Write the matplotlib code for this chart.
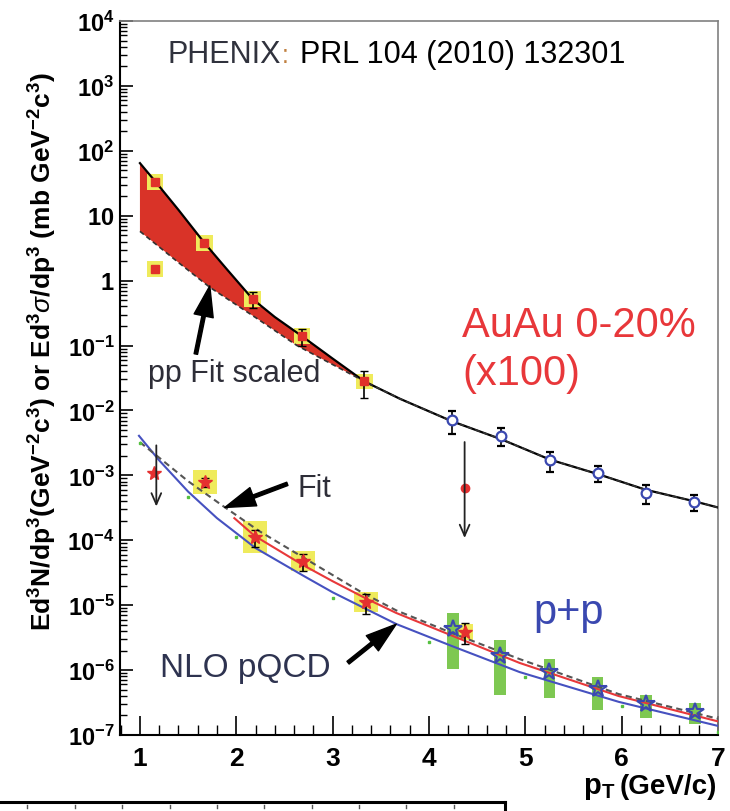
import numpy as np
import matplotlib.pyplot as plt
from matplotlib.lines import Line2D
from matplotlib.patches import Rectangle
from matplotlib.ticker import (LogLocator, NullFormatter, FuncFormatter,
                               MultipleLocator, FixedLocator)

plt.rcParams['font.family'] = ['Liberation Sans', 'DejaVu Sans']
plt.rcParams['mathtext.fontset'] = 'custom'
plt.rcParams['mathtext.rm'] = 'Liberation Sans'
plt.rcParams['mathtext.it'] = 'Liberation Sans:italic'
plt.rcParams['mathtext.bf'] = 'Liberation Sans:bold'

# --- AuAu 0-20% (x100), low pT points (red squares, yellow syst. boxes)
auau_x = [1.155, 1.67, 2.17, 2.68, 3.33]
auau_y = [33.0, 3.8, 0.52, 0.14, 0.028]
auau_err = [0.0, 0.1, 0.27, 0.3, 0.45]          # relative stat. error
auau2_x = [1.155]
auau2_y = [1.5]

# AuAu high pT (blue open circles)
circ_x = [4.24, 4.75, 5.26, 5.75, 6.25, 6.75]
circ_y = [7.1e-3, 4.1e-3, 1.7e-3, 1.1e-3, 5.4e-4, 3.9e-4]
circ_err = [0.38, 0.30, 0.33, 0.27, 0.32, 0.28]

# AuAu upper limit
ul_au_x = 4.37
ul_au_y = 6.3e-4
ul_au_range = (3.6e-3, 9.8e-5)

# pp fit scaled (solid) and lower edge of band (dashed)
fit_au_x = [1.0, 1.155, 1.4, 1.67, 1.9, 2.17, 2.4, 2.68, 3.0, 3.33,
            3.7, 4.24, 4.75, 5.26, 5.75, 6.25, 6.75, 7.0]
fit_au_y = [64.6, 34.3, 12.3, 3.8, 1.51, 0.52, 0.275, 0.14, 0.063, 0.028,
            0.0151, 0.0068, 0.0036, 0.00174, 0.00105, 0.0006, 0.0004, 0.00032]
band_lo_x = [1.0, 1.4, 1.725, 2.2, 2.63, 3.0, 3.33]
band_lo_y = [5.75, 1.9, 0.79, 0.27, 0.1, 0.051, 0.028]

# --- p+p
pp_star_x = [1.68, 2.19, 2.69, 3.35, 4.37]
pp_star_y = [7.9e-4, 1.12e-4, 4.8e-5, 1.12e-5, 3.9e-6]
pp_star_err = [0.15, 0.3, 0.3, 0.35, 0.35]
pp_star_syst = [0.18, 0.25, 0.15, 0.16, 0.12]   # dex
ul_pp_x = 1.17
ul_pp_y = 1.1e-3
ul_pp_range = (3.2e-3, 3.0e-4)

pp_open_x = [4.25, 4.74, 5.25, 5.75, 6.25, 6.76]
pp_open_y = [4.3e-6, 1.66e-6, 9.3e-7, 5.1e-7, 3.0e-7, 2.3e-7]
pp_open_syst = [0.76, 0.75, 0.6, 0.52, 0.4, 0.36]  # relative

nlo_x = [0.99, 1.2, 1.5, 1.8, 2.2, 2.7, 3.0, 3.66, 4.24, 4.94, 5.97, 7.0]
nlo_y = [4.07e-3, 1.70e-3, 5.62e-4, 2.19e-4, 7.59e-5, 2.82e-5, 1.58e-5,
         5.13e-6, 2.34e-6, 9.33e-7, 3.24e-7, 1.38e-7]
red_x = [1.98, 2.19, 2.69, 3.0, 3.35, 3.66, 4.24, 4.94, 5.97, 7.0]
red_y = [2.19e-4, 1.17e-4, 4.17e-5, 2.34e-5, 1.26e-5, 7.59e-6, 3.39e-6,
         1.29e-6, 3.98e-7, 1.62e-7]
ppfit_x = [1.0, 1.21, 1.5, 1.86, 2.24, 2.87, 3.3, 3.66, 4.24, 4.94, 5.97, 7.0]
ppfit_y = [3.24e-3, 1.82e-3, 8.13e-4, 3.39e-4, 1.38e-4, 3.80e-5, 1.58e-5,
           8.32e-6, 3.72e-6, 1.48e-6, 4.27e-7, 1.78e-7]
green_x = [1.0, 1.5, 2.0, 3.0, 4.0, 5.0, 6.0, 7.0]
green_y = [3.2e-3, 4.7e-4, 1.12e-4, 1.29e-5, 2.7e-6, 7.8e-7, 2.8e-7, 1.12e-7]

y_decades = list(range(-7, 5))
x_major = [1, 2, 3, 4, 5, 6, 7]

YELLOW = '#efeb5c'
GREEN = '#7ec852'
RED = '#e0302a'
BLUE = '#3a48b0'

fig = plt.figure(figsize=(7.3, 8.12), dpi=100)
ax = fig.add_axes([120 / 730, 76 / 812, 598 / 730, 714 / 812])
ax.set_yscale('log')
ax.set_xlim(0.793, 7.0)
ax.set_ylim(1e-7, 1e4)

# red band
poly_x = fit_au_x[:10] + band_lo_x[::-1]
poly_y = fit_au_y[:10] + band_lo_y[::-1]
ax.fill(poly_x, poly_y, color='#d93328', lw=0, zorder=1)

# systematic boxes
for x, y in zip(auau_x + auau2_x, auau_y + auau2_y):
    ax.add_patch(Rectangle((x - 0.085, y / 10**0.12), 0.17, y * (10**0.12 - 10**-0.12),
                           color=YELLOW, lw=0, zorder=2))
for x, y, s in zip(pp_star_x, pp_star_y, pp_star_syst):
    w = 0.09 if x > 4 else 0.125
    ax.add_patch(Rectangle((x - w, y / 10**s), 2 * w, y * (10**s - 10**-s),
                           color=YELLOW, lw=0, zorder=2))
for x, y, s in zip(pp_open_x, pp_open_y, pp_open_syst):
    ax.add_patch(Rectangle((x - 0.06, y * (1 - s)), 0.12, 2 * s * y,
                           color=GREEN, lw=0, zorder=2))

# curves
ax.plot(fit_au_x, fit_au_y, color='black', lw=1.6, zorder=3)
ax.plot(band_lo_x + fit_au_x[10:], band_lo_y + fit_au_y[10:], color='#333333',
        lw=1.2, ls=(0, (3, 2)), zorder=3)
ax.plot(nlo_x, nlo_y, color='#4651c0', lw=1.5, zorder=3)
ax.plot(red_x, red_y, color='#e8383a', lw=1.5, zorder=3)
ax.plot(ppfit_x, ppfit_y, color='#555555', lw=1.5, ls=(0, (3, 2)), zorder=3)
ax.plot(green_x, green_y, ls='none', marker='s', ms=1.8, color='#55c040', zorder=3)

# data points
ax.errorbar(auau_x, auau_y, yerr=np.array(auau_err) * np.array(auau_y), fmt='s',
            ms=6, mfc=RED, mec=RED, ecolor='black', elinewidth=1.2, capsize=3, zorder=4)
ax.plot(auau2_x, auau2_y, 's', ms=6, mfc=RED, mec=RED, zorder=4)
ax.errorbar(circ_x, circ_y, yerr=np.array(circ_err) * np.array(circ_y), fmt='o',
            ms=7, mfc='white', mec=BLUE, mew=1.6, ecolor='black', elinewidth=1.2,
            capsize=3, zorder=4)
ax.plot([ul_au_x], [ul_au_y], 'o', ms=6, color='#e53030', zorder=5)
ax.errorbar(pp_star_x, pp_star_y, yerr=np.array(pp_star_err) * np.array(pp_star_y),
            fmt='*', ms=10, color='#e53030', ecolor='black', elinewidth=1.2,
            capsize=3, zorder=4)
ax.plot([ul_pp_x - 0.02], [ul_pp_y], '*', ms=10, color='#e53030', zorder=5)
ax.plot(pp_open_x, pp_open_y, '*', ms=13, mfc='none', mec=BLUE, mew=1.5, zorder=4)

# upper limit arrows
for x, (y0, y1) in [(ul_au_x, ul_au_range), (ul_pp_x, ul_pp_range)]:
    ax.annotate('', xy=(x, y1), xytext=(x, y0),
                arrowprops=dict(arrowstyle='->,head_length=0.8,head_width=0.35',
                                lw=1.3, color='#222222'), zorder=5)

# labelled arrows
arrow_kw = dict(facecolor='black', edgecolor='black', width=2.5, headwidth=14,
                headlength=22, shrink=0)
ax.annotate('', xy=(1.725, 0.83), xytext=(1.58, 0.074), arrowprops=arrow_kw)
ax.annotate('', xy=(1.88, 3.2e-4), xytext=(2.53, 7.4e-4), arrowprops=arrow_kw)
ax.annotate('', xy=(3.66, 5.1e-6), xytext=(3.16, 1.3e-6), arrowprops=arrow_kw)

# axes styling
for side in ['left', 'bottom']:
    ax.spines[side].set_linewidth(1.5)
for side in ['top', 'right']:
    ax.spines[side].set_color('#808080')
    ax.spines[side].set_linewidth(1.2)

ax.xaxis.set_major_locator(FixedLocator(x_major))
ax.xaxis.set_minor_locator(MultipleLocator(0.2))
ax.yaxis.set_major_locator(FixedLocator([10.0**n for n in y_decades]))
ax.yaxis.set_minor_locator(LogLocator(base=10, subs=np.arange(2, 10), numticks=300))
ax.yaxis.set_minor_formatter(NullFormatter())


def ylab(v, pos):
    n = int(round(np.log10(v)))
    if n == 0:
        return r'$\mathbf{1}$'
    if n == 1:
        return r'$\mathbf{10}$'
    return r'$\mathbf{10^{%d}}$' % n


ax.yaxis.set_major_formatter(FuncFormatter(ylab))
ax.xaxis.set_major_formatter(FuncFormatter(lambda v, p: '%d' % round(v)))
ax.tick_params(which='both', direction='in', top=False, right=False, color='black')
ax.tick_params(axis='y', which='major', length=9, width=1.2, labelsize=17, pad=4)
ax.tick_params(axis='y', which='minor', length=5, width=1.0)
ax.tick_params(axis='x', which='major', length=14, width=1.2, labelsize=19, pad=8)
ax.tick_params(axis='x', which='minor', length=7, width=1.0)
for lbl in ax.get_xticklabels():
    lbl.set_fontweight('bold')


# texts
def fx(px):
    return px / 730


def fy(py):
    return 1 - py / 812


fig.text(fx(167), fy(63), 'PHENIX', fontsize=22, color='#30323d', va='baseline')
fig.text(fx(282), fy(63), ':', fontsize=18, color='#c08040', va='baseline')
fig.text(fx(300), fy(63), 'PRL 104 (2010) 132301', fontsize=22, color='black',
         va='baseline')
fig.text(fx(462), fy(337), 'AuAu 0-20%', fontsize=30, color='#e8373a', va='baseline')
fig.text(fx(462), fy(385), '(x100)', fontsize=30, color='#e8373a', va='baseline')
fig.text(fx(533), fy(624), 'p+p', fontsize=30, color=BLUE, va='baseline')
fig.text(fx(148), fy(382), 'pp Fit scaled', fontsize=22, color='#2e2e38', va='baseline')
fig.text(fx(297), fy(497), 'Fit', fontsize=22, color='#2e2e38', va='baseline')
fig.text(fx(160), fy(677), 'NLO pQCD', fontsize=24, color='#2e3350', va='baseline')

fig.text(fx(43), fy(352),
         r'$\mathbf{Ed^3N/dp^3(GeV^{-2}c^3)\ or\ Ed^3}\sigma\mathbf{/dp^3\ (mb\ GeV^{-2}c^3)}$',
         rotation=90, ha='center', va='center', fontsize=19)
fig.text(fx(583), fy(794), r'$\mathbf{p_{T}}$', fontsize=21, va='baseline')
fig.text(fx(620), fy(794), '(GeV/c)', fontsize=20, fontweight='bold', va='baseline')

# fragment of the next panel at the bottom edge
fig.add_artist(Line2D([0, 505 / 730], [fy(803), fy(803)], color='black', lw=2.2))
fig.add_artist(Line2D([505 / 730, 505 / 730], [fy(803), 0], color='black', lw=2.2))
for px in [27, 75, 122, 170, 217, 264, 312, 359, 406, 454]:
    fig.add_artist(Line2D([fx(px), fx(px)], [fy(806), fy(809)], color='#555555', lw=1))

fig.savefig('out.png', dpi=100)
